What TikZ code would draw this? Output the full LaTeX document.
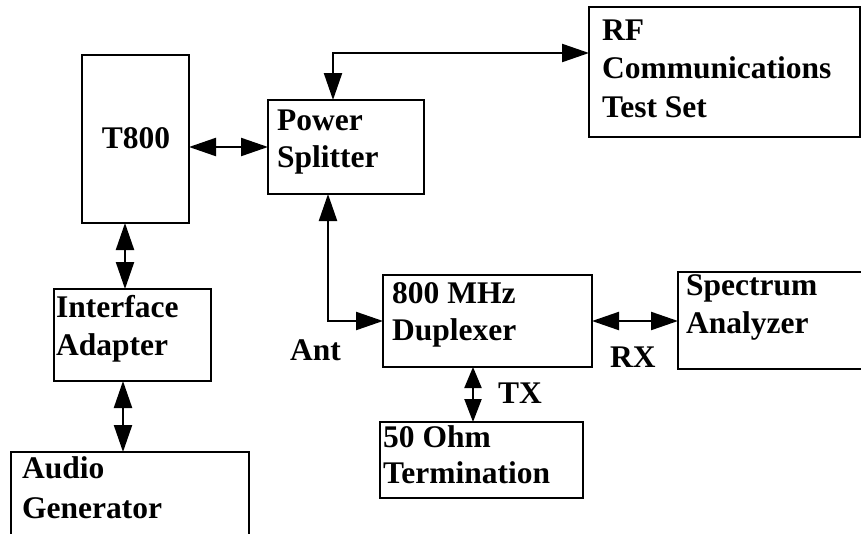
\documentclass[tikz,border=0pt]{standalone}
\usepackage{fontspec}
\setmainfont{Liberation Serif}
\usetikzlibrary{arrows.meta,calc}
\newcommand\stacklines[2]{\vtop{\baselineskip=#1pt\relax #2}}
\begin{document}
\begin{tikzpicture}[x=1pt,y=-1pt,
  box/.style={draw, line width=1.4pt, rectangle, inner sep=0pt, outer sep=0pt, anchor=north west},
  txt/.style={inner sep=0pt, anchor=base west, font=\fontsize{31.5}{38}\selectfont\bfseries},
  conn/.style={line width=2.2pt, {Triangle[length=27pt,width=18pt]}-{Triangle[length=27pt,width=18pt]}},
  shortconn/.style={line width=2.2pt, {Triangle[length=21pt,width=17pt]}-{Triangle[length=23pt,width=17pt]}}]
\useasboundingbox (0,0) rectangle (861,533);
\clip (0,0) rectangle (861,533);
% boxes
\node[box, minimum width=107pt, minimum height=168pt] (t800) at (82,55) {};
\node[box, minimum width=156pt, minimum height=94pt] (ps) at (268,100) {};
\node[box, minimum width=271pt, minimum height=130pt] (rf) at (589,7) {};
\node[box, minimum width=157pt, minimum height=92pt] (ia) at (54,289) {};
\node[box, minimum width=238pt, minimum height=100pt] (ag) at (11,452) {};
\node[box, minimum width=209pt, minimum height=92pt] (dup) at (383,275) {};
\node[box, minimum width=190pt, minimum height=97pt] (spec) at (678,272) {};
\node[box, line width=2.6pt, minimum width=203pt, minimum height=76pt] (ohm) at (380,422) {};
% texts
\node[txt, anchor=base] (t800t) at ($(t800.north west)+(54,93)$) {T800};
\node[txt] (pst) at ($(ps.north west)+(9,30)$) {\stacklines{37}{\hbox{Power}\hbox{Splitter}}};
\node[txt] (rft) at ($(rf.north west)+(13,33)$) {\stacklines{38.5}{\hbox{RF}\hbox{Communications}\hbox{Test Set}}};
\node[txt] (iat) at ($(ia.north west)+(2,28)$) {\stacklines{38}{\hbox{Interface}\hbox{Adapter}}};
\node[txt] (agt) at ($(ag.north west)+(11,26)$) {\stacklines{40}{\hbox{Audio}\hbox{Generator}}};
\node[txt] (dupt) at ($(dup.north west)+(9,28)$) {\stacklines{37}{\hbox{800 MHz}\hbox{Duplexer}}};
\node[txt] (spect) at ($(spec.north west)+(8,23)$) {\stacklines{38}{\hbox{Spectrum}\hbox{Analyzer}}};
\node[txt] (ohmt) at ($(ohm.north west)+(3,25)$) {\stacklines{36}{\hbox{50 Ohm}\hbox{Termination}}};
% labels
\node[txt] (ant) at (290,360) {Ant};
\node[txt] (rx) at (610,367) {RX};
\node[txt] (tx) at (498,403) {TX};
% connectors
\coordinate (pstop) at ($(ps.north west)+(65,0)$);
\coordinate (rfin) at ($(rf.north west)+(0,46)$);
\coordinate (psbot) at ($(ps.south west)+(60,0)$);
\coordinate (txtop) at ($(dup.south west)+(90,0)$);
\coordinate (c1) at ($(t800.south west)+(43,0)$);
\coordinate (c2) at ($(ia.south west)+(69,0)$);
\draw[conn] (t800.east |- ps.west) -- (ps.west);
\draw[conn] (pstop) |- (rfin);
\draw[conn] (psbot) |- (dup.west);
\draw[conn] (dup.east) -- (dup.east -| spec.west);
\draw[shortconn] (txtop) -- (txtop |- ohm.north);
\draw[conn] (c1) -- (c1 |- ia.north);
\draw[conn] (c2) -- (c2 |- ag.north);
\end{tikzpicture}
\end{document}
